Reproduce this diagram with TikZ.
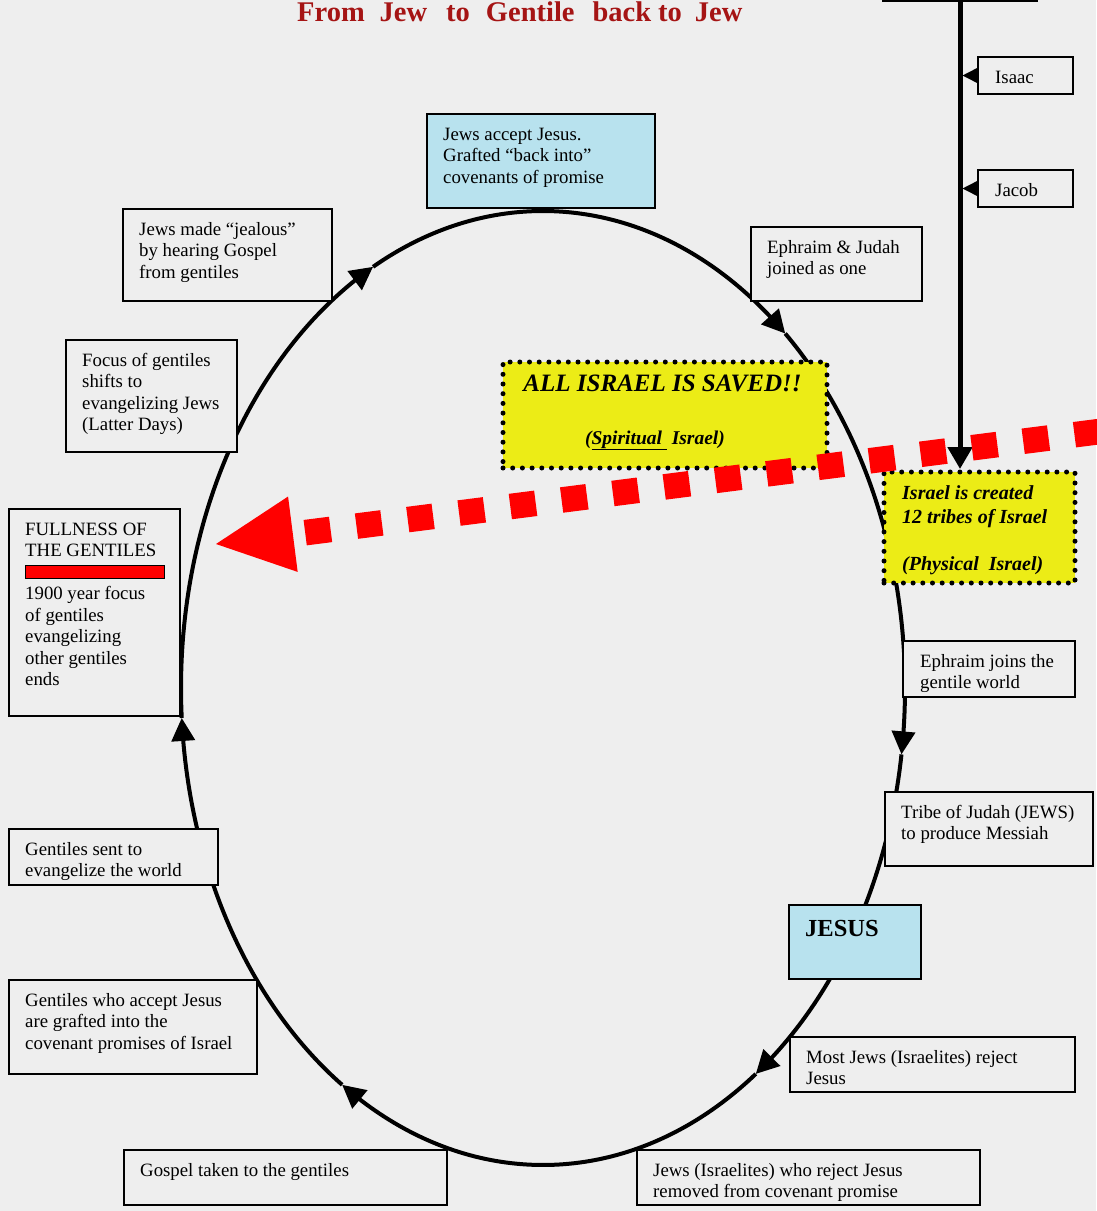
\documentclass[tikz,border=0pt]{standalone}
\usepackage{fontspec}
\setmainfont{Liberation Serif}
\usetikzlibrary{arrows.meta,calc,bending}
\definecolor{bgc}{RGB}{238,238,238}
\definecolor{boxblue}{RGB}{184,226,238}
\definecolor{yel}{RGB}{236,236,22}
\definecolor{ttl}{RGB}{165,20,20}
\newcommand\ptxt[1]{\parbox[t]{420pt}{\raggedright #1}}
\begin{document}
\begin{tikzpicture}[x=1pt,y=-1pt,
 bx/.style={draw, line width=1.6pt, fill=bgc, anchor=north west, inner sep=0pt, outer sep=0pt},
 tx/.style={anchor=base west, inner sep=0pt, font=\fontsize{18.8}{21.5}\selectfont},
 ell/.style={line width=4pt, -{Triangle[length=23pt,width=23pt]}},
 ydot/.style={fill=yel, draw=black, line width=5pt, dash pattern=on 0pt off 9.7pt, line cap=round, anchor=north west, inner sep=0pt, outer sep=0pt},
 yt/.style={inner sep=0pt, font=\bfseries\itshape\fontsize{20}{25}\selectfont},
]
\useasboundingbox (0,0) rectangle (1096,1211);
\fill[bgc] (0,0) rectangle (1096,1211);

% main cycle
\coordinate (c) at (543,688);
\draw[ell] ($(c)+(-48:362 and 477)$) arc[start angle=-48, end angle=8, x radius=362, y radius=477];
\draw[ell] ($(c)+(8:362 and 477)$) arc[start angle=8, end angle=54, x radius=362, y radius=477];
\draw[ell] ($(c)+(54:362 and 477)$) arc[start angle=54, end angle=123.7, x radius=362, y radius=477];
\draw[ell] ($(c)+(123.7:362 and 477)$) arc[start angle=123.7, end angle=176.4, x radius=362, y radius=477];
\draw[ell] ($(c)+(176.4:362 and 477)$) arc[start angle=176.4, end angle=242, x radius=362, y radius=477];
\draw[ell] ($(c)+(242:362 and 477)$) arc[start angle=242, end angle=312, x radius=362, y radius=477];

% genealogy line
\node[bx, minimum width=154pt, minimum height=61pt] (abraham) at (883,-60) {};
\node[bx, minimum width=95pt, minimum height=37pt] (isaac) at (978,57) {};
\node[bx, minimum width=95pt, minimum height=37pt] (jacob) at (978,170) {};
\node[tx] (isaac-t) at (995,83) {Isaac};
\node[tx] (jacob-t) at (995,196) {Jacob};
\coordinate (vl) at (962.5,0);
\coordinate (vend) at (960,469);
\draw[line width=5pt, -{Triangle[length=22pt,width=24pt]}] (abraham.south) -- (vend);
\draw[line width=1.6pt, -{Triangle[length=16pt,width=16pt]}] (isaac.west) -- (isaac.west -| vl);
\draw[line width=1.6pt, -{Triangle[length=16pt,width=16pt]}] (jacob.west) -- (jacob.west -| vl);

% boxes
\node[bx, fill=boxblue, minimum width=228pt, minimum height=94pt] (accept) at (427,114) {};
\node[tx] (accept-t) at (443,140) {\ptxt{Jews accept Jesus.\\Grafted “back into”\\covenants of promise}};

\node[bx, minimum width=209pt, minimum height=92pt] (jealous) at (123,209) {};
\node[tx] (jealous-t) at (139,235) {\ptxt{Jews made “jealous”\\by hearing Gospel\\from gentiles}};

\node[bx, minimum width=171pt, minimum height=74pt] (ephjud) at (751,227) {};
\node[tx] (ephjud-t) at (767,253) {\ptxt{Ephraim \& Judah\\joined as one}};

\node[bx, minimum width=171pt, minimum height=112pt] (focus) at (66,340) {};
\node[tx] (focus-t) at (82,366) {\ptxt{Focus of gentiles\\shifts to\\evangelizing Jews\\(Latter Days)}};

\node[bx, minimum width=171pt, minimum height=207pt] (fullness) at (9,509) {};
\node[tx] (fullness-t) at (25,535) {\ptxt{FULLNESS OF\\THE GENTILES\\[21.5pt]1900 year focus\\of gentiles\\evangelizing\\other gentiles\\ends}};
\node[draw=black, fill=red, line width=1pt, minimum width=139pt, minimum height=12.6pt, anchor=north west, inner sep=0pt, outer sep=0pt] (bar) at (25,565.7) {};

\node[bx, minimum width=172pt, minimum height=56pt] (ephjoin) at (903,641) {};
\node[tx] (ephjoin-t) at (920,667) {\ptxt{Ephraim joins the\\gentile world}};

\node[bx, minimum width=208pt, minimum height=74pt] (tribe) at (885,792) {};
\node[tx] (tribe-t) at (901,818) {\ptxt{Tribe of Judah (JEWS)\\to produce Messiah}};

\node[bx, fill=boxblue, minimum width=132pt, minimum height=74pt] (jesus) at (789,905) {};
\node[anchor=base west, inner sep=0pt, font=\bfseries\fontsize{24.5}{28}\selectfont] (jesus-t) at (805,936) {JESUS};

\node[bx, minimum width=285pt, minimum height=55pt] (most) at (790,1037) {};
\node[tx] (most-t) at (806,1063) {\ptxt{Most Jews (Israelites) reject\\Jesus}};

\node[bx, minimum width=343pt, minimum height=55pt] (removed) at (637,1150) {};
\node[tx] (removed-t) at (653,1176) {\ptxt{Jews (Israelites) who reject Jesus\\removed from covenant promise}};

\node[bx, minimum width=323pt, minimum height=55pt] (gospel) at (124,1150) {};
\node[tx] (gospel-t) at (140,1176) {Gospel taken to the gentiles};

\node[bx, minimum width=248pt, minimum height=94pt] (accepts) at (9,980) {};
\node[tx] (accepts-t) at (25,1006) {\ptxt{Gentiles who accept Jesus\\are grafted into the\\covenant promises of Israel}};

\node[bx, minimum width=209pt, minimum height=56pt] (sent) at (9,829) {};
\node[tx] (sent-t) at (25,855) {\ptxt{Gentiles sent to\\evangelize the world}};

% yellow boxes
\node[ydot, minimum width=324pt, minimum height=106pt] (saved) at (503,362) {};
\node[yt, anchor=base, font=\bfseries\itshape\fontsize{25}{30}\selectfont] (saved-t) at (662.5,391.7) {ALL ISRAEL IS SAVED!!};
\node[yt, anchor=base, font=\bfseries\itshape\fontsize{19.5}{24}\selectfont] (spirit-t) at (655,444) {(\underline{Spiritual\ }\ Israel)};

\node[ydot, minimum width=191pt, minimum height=111pt] (created) at (884,472) {};
\node[yt, anchor=base west] (created-t) at (902,499) {\parbox[t]{200pt}{\raggedright Israel is created\\[-0.5pt]12 tribes of Israel}};
\node[yt, anchor=base west] (phys-t) at (902,570) {(Physical\ \ Israel)};

% red arrow
\coordinate (rs) at (1110,430.2);
\coordinate (rt) at (216,544);
\coordinate (rb) at ($(rt)!77.5pt!(rs)$);
\fill[red] (rt) -- ($(rb)!38pt!90:(rt)$) -- ($(rb)!38pt!-90:(rt)$) -- cycle;
\draw[red, line width=25.6pt, dash pattern=on 25.6pt off 26.1pt, dash phase=39.3pt] (rb) -- (rs);

% title
\node[anchor=base west, inner sep=0pt, text=ttl, font=\bfseries\fontsize{28.5}{30}\selectfont] (title) at (297,21.5) {From\hspace{15pt}Jew\hspace{19pt}to\hspace{16pt}Gentile\hspace{18pt}back\hspace{7pt}to\hspace{13pt}Jew};
\end{tikzpicture}
\end{document}
